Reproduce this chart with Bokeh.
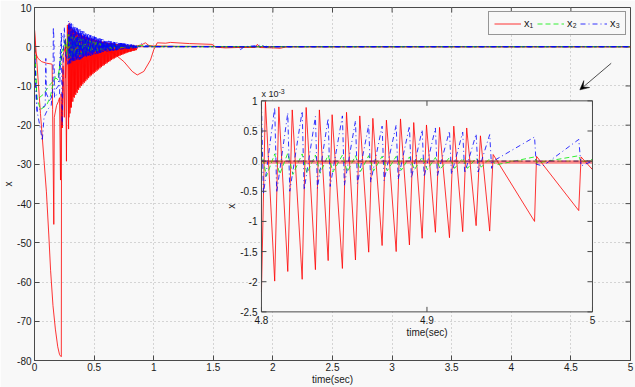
import math
from bokeh.plotting import figure
from bokeh.models import (Range1d, FixedTicker, Legend, LegendItem, Arrow, VeeHead)
from bokeh.core.properties import value
from bokeh.embed import file_html
from bokeh.resources import INLINE

# ---------------- data ----------------
x_lim = [0, 5]
y_lim = [-80, 10]
x_ticks = [0, 0.5, 1, 1.5, 2, 2.5, 3, 3.5, 4, 4.5, 5]
x_tick_labels = ["0", "0.5", "1", "1.5", "2", "2.5", "3", "3.5", "4", "4.5", "5"]
y_ticks = [10, 0, -10, -20, -30, -40, -50, -60, -70, -80]
y_tick_labels = ["10", "0", "-10", "-20", "-30", "-40", "-50", "-60", "-70", "-80"]

inset_t_lim = [4.8, 5.0]
inset_v_lim = [-2.5, 1.0]
inset_x_ticks = [4.8, 4.9, 5.0]
inset_x_tick_labels = ["4.8", "4.9", "5"]
inset_y_ticks = [1, 0.5, 0, -0.5, -1, -1.5, -2, -2.5]
inset_y_tick_labels = ["1", "0.5", "0", "-0.5", "-1", "-1.5", "-2", "-2.5"]

# x1 (red), first agent: big dip, oscillation, settle
x1a_early_t = [0, 0.02, 0.05, 0.08, 0.10, 0.12, 0.135, 0.155, 0.175, 0.195, 0.21, 0.222,
               0.225, 0.227, 0.232, 0.24, 0.25, 0.26, 0.268, 0.275]
x1a_early_v = [4.4, -4, -17, -29, -37, -48, -57, -66, -72, -76.5, -78.5, -79,
               -79, -15, -20.7, -5, -18, 2, -29.2, 5.5]
x1a_late_t = [0.9, 0.93, 0.96, 1.0, 1.2, 1.5, 1.55, 2.0, 5.0]
x1a_late_v = [0.5, 1.0, 0.3, 0.2, 0.1, 0.1, -0.1, 0.0, 0.0]

# x1 (red), second agent
x1b_t = [0, 0.005, 0.01, 0.03, 0.06, 0.10, 0.14, 0.148, 0.152, 0.162, 0.166, 0.185, 0.2,
         0.21, 0.218, 0.223, 0.232, 0.24, 0.26, 0.3, 0.4, 0.5, 0.6, 0.665, 0.75, 0.82,
         0.862, 0.917, 0.973, 1.0, 1.03, 1.1, 1.14, 1.3, 1.49, 1.52, 1.6, 1.7, 1.85,
         1.87, 1.89, 2.0, 2.06, 2.12, 5.0]
x1b_v = [4.4, 0.0, -1.7, -3.0, -3.8, -4.2, -4.4, -4.5, -16, -45.3, -18, -15, -14,
         -13, -34, -12, -20.7, -2, 0, -1.0, -1.5, -1.2, -1.0, -1.7, -3.8, -6.3,
         -7.2, -6.3, -3.4, -0.8, 1.0, 0.9, 1.1, 0.8, 0.6, -0.1, -0.3, -0.2, -0.2,
         0.6, -0.2, -0.3, -0.4, 0.0, 0.0]

# x2 (green)
x2a_early_t = [0, 0.02, 0.05, 0.1, 0.13, 0.16, 0.176, 0.2, 0.22, 0.24, 0.26, 0.27]
x2a_early_v = [0, -13, -16, -15, -13, -9, -7.6, -7, -4, -1, 2, -2]
x2a_late_t = [0.9, 1.0, 1.5, 1.9, 1.93, 1.96, 2.0, 5.0]
x2a_late_v = [0.3, 0.1, 0.05, 0.0, 0.4, -0.1, 0.0, 0.0]
x2b_t = [0, 0.01, 0.02, 0.04, 0.08, 0.12, 0.15, 0.18, 0.2, 0.22, 0.25, 0.3, 0.5, 0.8, 1.0, 5.0]
x2b_v = [0, -6, -13.5, -13, -12, -10, -9, -8, -8.5, -2, 0.5, 0.3, 0.2, 0.1, 0.0, 0.0]

# x3 (blue)
x3a_early_t = [0, 0.01, 0.025, 0.05, 0.065, 0.08, 0.11, 0.14, 0.155, 0.158, 0.163, 0.168,
               0.19, 0.21, 0.225, 0.232, 0.24, 0.25, 0.265]
x3a_early_v = [0, -8, -17, -21, -24, -18, -16, -15, -10, 5, 2, -13,
               -12, -12, 3.5, -20, -5, 5, -3]
x3a_late_t = [0.9, 0.93, 1.0, 1.1, 1.5, 1.7, 1.73, 1.76, 1.9, 1.95, 2.0, 5.0]
x3a_late_v = [0.8, 0.3, 0.0, 0.1, 0.0, 0.0, -0.7, 0.0, 0.4, -0.2, 0.0, 0.0]
x3b_t = [0, 0.008, 0.02, 0.04, 0.09, 0.095, 0.1, 0.13, 0.15, 0.2, 0.215, 0.23, 0.26, 0.4, 0.6, 1.0, 5.0]
x3b_v = [0, -10, -16.5, -16, -15, -3, -12, -14, -12, -10, -2, 3, 0.5, 0.3, 0.1, 0.0, 0.0]

# chattering phase (sampled peaks / troughs)
osc_t = [0.280, 0.286, 0.292, 0.298, 0.304, 0.310, 0.316, 0.322, 0.328, 0.334,
         0.340, 0.346, 0.352, 0.358, 0.364, 0.370, 0.376, 0.382, 0.388, 0.394,
         0.400, 0.406, 0.412, 0.418, 0.424, 0.430, 0.436, 0.442, 0.448, 0.454,
         0.460, 0.466, 0.472, 0.478, 0.484, 0.490, 0.496, 0.502, 0.508, 0.514,
         0.520, 0.526, 0.532, 0.538, 0.544, 0.550, 0.556, 0.562, 0.568, 0.574,
         0.580, 0.586, 0.592, 0.598, 0.604, 0.610, 0.616, 0.622, 0.628, 0.634,
         0.640, 0.646, 0.652, 0.658, 0.664, 0.670, 0.676, 0.682, 0.688, 0.694,
         0.700, 0.706, 0.712, 0.718, 0.724, 0.730, 0.736, 0.742, 0.748, 0.754,
         0.760, 0.766, 0.772, 0.778, 0.784, 0.790, 0.796, 0.802, 0.808, 0.814,
         0.820, 0.826, 0.832, 0.838, 0.844, 0.850, 0.856]
x1_osc = [5.5, -21, 6.0, -17, 5.0, -15.5, 4.6, -14, 4.3, -13,
          4.0, -12.3, 3.8, -11.8, 3.5, -11, 3.3, -10.5, 3.1, -10,
          2.9, -9.6, 2.8, -9.2, 2.6, -8.8, 2.5, -8.4, 2.3, -8.0,
          2.2, -7.6, 2.1, -7.3, 2.0, -7.0, 1.9, -6.7, 1.8, -6.4,
          1.7, -6.1, 1.6, -5.8, 1.5, -5.5, 1.4, -5.2, 1.3, -4.9,
          1.25, -4.7, 1.2, -4.4, 1.1, -4.2, 1.0, -3.9, 0.95, -3.7,
          0.9, -3.4, 0.85, -3.2, 0.8, -3.0, 0.75, -2.8, 0.7, -2.6,
          0.65, -2.4, 0.6, -2.3, 0.55, -2.1, 0.5, -2.0, 0.5, -1.8,
          0.45, -1.7, 0.4, -1.5, 0.4, -1.4, 0.35, -1.3, 0.35, -1.2,
          0.3, -1.1, 0.3, -1.0, 0.25, -0.9, 0.2]
x2_osc = [3.2, -3.0, 3.0, -2.9, 2.9, -2.8, 2.8, -2.6, 2.6, -2.5,
          2.5, -2.4, 2.4, -2.3, 2.3, -2.2, 2.2, -2.1, 2.1, -2.0,
          2.0, -1.9, 1.9, -1.8, 1.8, -1.7, 1.7, -1.65, 1.6, -1.55,
          1.5, -1.45, 1.45, -1.4, 1.35, -1.3, 1.3, -1.25, 1.2, -1.15,
          1.15, -1.1, 1.05, -1.0, 1.0, -0.95, 0.95, -0.9, 0.9, -0.85,
          0.85, -0.8, 0.8, -0.75, 0.75, -0.7, 0.7, -0.65, 0.65, -0.62,
          0.6, -0.58, 0.56, -0.54, 0.52, -0.5, 0.48, -0.46, 0.45, -0.43,
          0.42, -0.4, 0.39, -0.38, 0.37, -0.36, 0.35, -0.34, 0.33, -0.32,
          0.31, -0.3, 0.3, -0.29, 0.28, -0.27, 0.26, -0.25, 0.25, -0.24,
          0.23, -0.22, 0.21, -0.2, 0.2, -0.19, 0.18]
x3_osc = [-4.5, 6.5, -4.3, 6.2, -4.2, 5.9, -4.0, 5.6, -3.9, 5.3,
          -3.8, 5.0, -3.6, 4.8, -3.5, 4.6, -3.3, 4.4, -3.2, 4.2,
          -3.0, 4.0, -2.9, 3.8, -2.8, 3.6, -2.6, 3.4, -2.5, 3.2,
          -2.4, 3.0, -2.3, 2.9, -2.2, 2.7, -2.1, 2.6, -2.0, 2.4,
          -1.9, 2.3, -1.8, 2.2, -1.7, 2.1, -1.6, 2.0, -1.5, 1.9,
          -1.45, 1.8, -1.4, 1.7, -1.3, 1.6, -1.25, 1.5, -1.2, 1.4,
          -1.1, 1.35, -1.05, 1.3, -1.0, 1.2, -0.95, 1.1, -0.9, 1.05,
          -0.85, 1.0, -0.8, 0.95, -0.75, 0.9, -0.7, 0.85, -0.65, 0.8,
          -0.6, 0.75, -0.55, 0.7, -0.5, 0.65, -0.5, 0.6, -0.45, 0.55,
          -0.4, 0.5, -0.4, 0.45, -0.35, 0.4, -0.3]

# second chattering agents (red and blue), sampled between the first ones
osc_t2 = [0.283, 0.289, 0.295, 0.301, 0.307, 0.313, 0.319, 0.325, 0.331, 0.337,
          0.343, 0.349, 0.355, 0.361, 0.367, 0.373, 0.379, 0.385, 0.391, 0.397,
          0.403, 0.409, 0.415, 0.421, 0.427, 0.433, 0.439, 0.445, 0.451, 0.457,
          0.463, 0.469, 0.475, 0.481, 0.487, 0.493, 0.499, 0.505, 0.511, 0.517,
          0.523, 0.529, 0.535, 0.541, 0.547, 0.553, 0.559, 0.565, 0.571, 0.577,
          0.583, 0.589, 0.595, 0.601, 0.607, 0.613, 0.619, 0.625, 0.631, 0.637,
          0.643, 0.649, 0.655, 0.661, 0.667, 0.673, 0.679, 0.685, 0.691, 0.697,
          0.703, 0.709, 0.715, 0.721, 0.727, 0.733, 0.739, 0.745, 0.751, 0.757,
          0.763, 0.769, 0.775, 0.781, 0.787, 0.793, 0.799, 0.805, 0.811, 0.817,
          0.823, 0.829, 0.835, 0.841, 0.847, 0.853]
x1c_osc = [5.0, -18, 5.2, -15.5, 4.6, -14, 4.2, -12.8, 3.9, -12,
           3.7, -11.5, 3.4, -10.8, 3.2, -10.3, 3.0, -9.8, 2.9, -9.4,
           2.7, -9.0, 2.6, -8.6, 2.4, -8.2, 2.3, -7.8, 2.2, -7.4,
           2.0, -7.1, 1.9, -6.8, 1.8, -6.5, 1.75, -6.2, 1.65, -5.9,
           1.55, -5.6, 1.45, -5.3, 1.4, -5.0, 1.3, -4.8, 1.2, -4.5,
           1.15, -4.3, 1.1, -4.0, 1.0, -3.8, 0.95, -3.6, 0.9, -3.3,
           0.85, -3.1, 0.8, -2.9, 0.75, -2.7, 0.7, -2.5, 0.65, -2.35,
           0.6, -2.2, 0.55, -2.0, 0.5, -1.9, 0.48, -1.75, 0.45, -1.6,
           0.42, -1.5, 0.4, -1.4, 0.36, -1.3, 0.34, -1.2, 0.3, -1.1,
           0.28, -1.0, 0.25, -0.9, 0.22, -0.85]
x3c_osc = [-4.0, 6.0, -3.9, 5.8, -3.8, 5.4, -3.7, 5.1, -3.5, 4.9,
           -3.4, 4.7, -3.3, 4.5, -3.1, 4.3, -3.0, 4.1, -2.9, 3.9,
           -2.8, 3.7, -2.6, 3.5, -2.5, 3.3, -2.4, 3.1, -2.3, 3.0,
           -2.2, 2.8, -2.1, 2.7, -2.0, 2.5, -1.9, 2.4, -1.8, 2.3,
           -1.7, 2.2, -1.6, 2.1, -1.55, 2.0, -1.5, 1.9, -1.4, 1.8,
           -1.35, 1.7, -1.3, 1.6, -1.2, 1.55, -1.15, 1.45, -1.1, 1.4,
           -1.0, 1.3, -0.95, 1.25, -0.9, 1.15, -0.85, 1.1, -0.8, 1.0,
           -0.78, 0.95, -0.72, 0.9, -0.7, 0.85, -0.65, 0.8, -0.6, 0.75,
           -0.55, 0.7, -0.52, 0.65, -0.5, 0.6, -0.45, 0.55, -0.42, 0.5,
           -0.4, 0.48, -0.36, 0.44, -0.33, 0.4]
x1c_pre_t, x1c_pre_v = [0.26], [-8.0]
x1c_post_t, x1c_post_v = [0.87, 1.0, 5.0], [0.0, 0.0, 0.0]
x3c_pre_t, x3c_pre_v = [0.26], [-2.0]
x3c_post_t, x3c_post_v = [0.87, 1.0, 5.0], [0.0, 0.0, 0.0]

# inset (values in units of 1e-3)
in_x1_t = [4.8000, 4.8024, 4.8080, 4.8105, 4.8159, 4.8186, 4.8246, 4.8270, 4.8326, 4.8350,
           4.8403, 4.8427, 4.8489, 4.8514, 4.8568, 4.8594, 4.8648, 4.8673, 4.8729, 4.8755,
           4.8814, 4.8840, 4.8894, 4.8920, 4.8971, 4.8997, 4.9051, 4.9076, 4.9136, 4.9162,
           4.9216, 4.9240, 4.9297, 4.9323, 4.9379, 4.9400, 4.9650, 4.9662, 4.9917, 4.9931, 5.0000]
in_x1_v = [-2.17, 0.99, -1.99, 0.90, -1.83, 0.85, -1.96, 0.89, -1.80, 0.85,
           -1.65, 0.77, -1.78, 0.81, -1.64, 0.75, -1.51, 0.71, -1.40, 0.68,
           -1.50, 0.70, -1.39, 0.64, -1.28, 0.60, -1.18, 0.56, -1.27, 0.58,
           -1.17, 0.55, -1.07, 0.42, -1.16, 0.11, -1.00, 0.08, -0.82, 0.07, -0.14]
in_x3_t = [4.8000, 4.8012, 4.8080, 4.8092, 4.8159, 4.8171, 4.8246, 4.8258, 4.8326, 4.8338,
           4.8403, 4.8415, 4.8489, 4.8501, 4.8568, 4.8580, 4.8648, 4.8660, 4.8729, 4.8741,
           4.8814, 4.8826, 4.8894, 4.8906, 4.8971, 4.8983, 4.9051, 4.9063, 4.9136, 4.9148,
           4.9216, 4.9228, 4.9297, 4.9309, 4.9379, 4.9391, 4.9400, 4.9650, 4.9660, 4.9700,
           4.9917, 4.9931, 5.0000]
in_x3_v = [0.95, -0.55, 0.89, -0.52, 0.80, -0.50, 0.83, -0.48, 0.74, -0.45,
           0.71, -0.42, 0.75, -0.40, 0.67, -0.37, 0.60, -0.35, 0.58, -0.32,
           0.60, -0.30, 0.58, -0.28, 0.52, -0.26, 0.55, -0.24, 0.50, -0.22,
           0.48, -0.20, 0.45, -0.18, 0.44, -0.12, 0.00, 0.40, -0.05, -0.08,
           0.36, -0.08, 0.00]
in_x2_t = [4.8000, 4.8030, 4.8080, 4.8110, 4.8159, 4.8190, 4.8246, 4.8275, 4.8326, 4.8355,
           4.8403, 4.8432, 4.8489, 4.8519, 4.8568, 4.8599, 4.8648, 4.8678, 4.8729, 4.8760,
           4.8814, 4.8845, 4.8894, 4.8925, 4.8971, 4.9002, 4.9051, 4.9081, 4.9136, 4.9167,
           4.9216, 4.9245, 4.9297, 4.9328, 4.9379, 4.9420, 4.9650, 4.9665, 4.9917, 4.9931, 5.0000]
in_x2_v = [0.17, -0.25, 0.12, -0.22, 0.13, -0.22, 0.12, -0.20, 0.10, -0.20,
           0.10, -0.18, 0.10, -0.18, 0.09, -0.17, 0.09, -0.16, 0.08, -0.16,
           0.08, -0.15, 0.07, -0.14, 0.07, -0.14, 0.06, -0.13, 0.06, -0.12,
           0.05, -0.12, 0.05, -0.10, 0.04, -0.06, 0.07, -0.03, 0.09, -0.02, 0.03]
in_flat_t = [4.8, 5.0]
in_x1_flat_a = [0.0, 0.0]
in_x1_flat_b = [-0.03, -0.03]
in_x2_flat = [0.0, 0.0]
in_x3_flat = [0.0, 0.0]

# ---------------- styling / layout ----------------
FONT = "Liberation Sans"
BG = "#f8f8f8"
AX = "#4a4a4a"
TXT = "#1a1a1a"
RED, GREEN, BLUE = "#ff0000", "#00ee00", "#0000ff"
LW = 0.8
DASH_G = "5 3"
DASH_B = "5 3 1 3"

# where the inset sits, in main-axes data coordinates
IB_X0, IB_X1, IB_Y0, IB_Y1 = 1.904, 4.681, -67.6, -13.8

p = figure(width=635, height=387, x_range=Range1d(*x_lim), y_range=Range1d(*y_lim),
           output_backend="svg", toolbar_location=None,
           min_border_left=34, min_border_right=5, min_border_top=7, min_border_bottom=26,
           background_fill_color=BG, border_fill_color=BG,
           outline_line_color=AX, outline_line_width=1)


def style_axis(ax, ticks, labels, title, label_standoff, title_standoff):
    ax.ticker = FixedTicker(ticks=ticks)
    ax.major_label_overrides = {t: l for t, l in zip(ticks, labels)}
    ax.major_tick_in = 5
    ax.major_tick_out = 0
    ax.minor_tick_in = 0
    ax.minor_tick_out = 0
    ax.major_tick_line_color = AX
    ax.axis_line_color = AX
    ax.major_label_text_font = FONT
    ax.major_label_text_color = TXT
    ax.major_label_text_font_size = "10px"
    ax.major_label_standoff = label_standoff
    ax.axis_label = title
    ax.axis_label_text_font = FONT
    ax.axis_label_text_font_size = "10px"
    ax.axis_label_text_font_style = "normal"
    ax.axis_label_text_color = TXT
    ax.axis_label_standoff = title_standoff


style_axis(p.xaxis[0], x_ticks, x_tick_labels, "time(sec)", 2, 0)
style_axis(p.yaxis[0], y_ticks, y_tick_labels, "x", 3, 0)

p.xgrid.ticker = FixedTicker(ticks=x_ticks)
p.ygrid.ticker = FixedTicker(ticks=y_ticks)
p.grid.grid_line_color = "#b0b0b0"
p.grid.grid_line_dash = "1 3"
p.grid.grid_line_width = 1

# ticks on the top and right edges of the box
mtick = dict(length=5, length_units="screen", line_color=AX, line_width=1)
p.ray(x=x_ticks, y=[y_lim[1]] * len(x_ticks), angle=-math.pi / 2, **mtick)
p.ray(x=[x_lim[1]] * len(y_ticks), y=y_ticks, angle=math.pi, **mtick)

# ---- main traces ----
r1 = p.line(x1a_early_t + osc_t + x1a_late_t, x1a_early_v + x1_osc + x1a_late_v,
            line_color=RED, line_width=LW)
p.line(x1b_t, x1b_v, line_color=RED, line_width=LW)
p.line(x1c_pre_t + osc_t2 + x1c_post_t, x1c_pre_v + x1c_osc + x1c_post_v,
       line_color=RED, line_width=LW)
r2 = p.line(x2a_early_t + osc_t + x2a_late_t, x2a_early_v + x2_osc + x2a_late_v,
            line_color=GREEN, line_width=LW, line_dash=DASH_G)
p.line(x2b_t, x2b_v, line_color=GREEN, line_width=LW, line_dash=DASH_G)
r3 = p.line(x3a_early_t + osc_t + x3a_late_t, x3a_early_v + x3_osc + x3a_late_v,
            line_color=BLUE, line_width=LW, line_dash=DASH_B)
p.line(x3b_t, x3b_v, line_color=BLUE, line_width=LW, line_dash=DASH_B)
p.line(x3c_pre_t + osc_t2 + x3c_post_t, x3c_pre_v + x3c_osc + x3c_post_v,
       line_color=BLUE, line_width=LW, line_dash=DASH_B)

# ---- inset via extra ranges mapped onto the inset box ----
sx = (inset_t_lim[1] - inset_t_lim[0]) / (IB_X1 - IB_X0)
sy = (inset_v_lim[1] - inset_v_lim[0]) / (IB_Y1 - IB_Y0)
p.extra_x_ranges = {"ix": Range1d(inset_t_lim[0] - (IB_X0 - x_lim[0]) * sx,
                                  inset_t_lim[1] + (x_lim[1] - IB_X1) * sx)}
p.extra_y_ranges = {"iy": Range1d(inset_v_lim[0] - (IB_Y0 - y_lim[0]) * sy,
                                  inset_v_lim[1] + (y_lim[1] - IB_Y1) * sy)}
IR = dict(x_range_name="ix", y_range_name="iy")

p.quad(left=[inset_t_lim[0]], right=[inset_t_lim[1]], bottom=[inset_v_lim[0]],
       top=[inset_v_lim[1]], fill_color=BG, line_color=None, **IR)

p.line(in_flat_t, in_x1_flat_b, line_color=RED, line_width=LW, **IR)
p.line(in_x1_t, in_x1_v, line_color=RED, line_width=LW, **IR)
p.line(in_x2_t, in_x2_v, line_color=GREEN, line_width=LW, line_dash=DASH_G, **IR)
p.line(in_flat_t, in_x2_flat, line_color=GREEN, line_width=LW, line_dash=DASH_G, **IR)
p.line(in_x3_t, in_x3_v, line_color=BLUE, line_width=LW, line_dash=DASH_B, **IR)
p.line(in_flat_t, in_x3_flat, line_color=BLUE, line_width=LW, line_dash=DASH_B, **IR)
p.line(in_flat_t, in_x1_flat_a, line_color=RED, line_width=LW, **IR)

p.quad(left=[inset_t_lim[0]], right=[inset_t_lim[1]], bottom=[inset_v_lim[0]],
       top=[inset_v_lim[1]], fill_color=None, line_color=AX, line_width=1, **IR)

nx, ny = len(inset_x_ticks), len(inset_y_ticks)
tick_kw = dict(length=5, length_units="screen", line_color=AX, line_width=1, **IR)
p.ray(x=inset_x_ticks, y=[inset_v_lim[0]] * nx, angle=math.pi / 2, **tick_kw)
p.ray(x=inset_x_ticks, y=[inset_v_lim[1]] * nx, angle=-math.pi / 2, **tick_kw)
p.ray(x=[inset_t_lim[0]] * ny, y=inset_y_ticks, angle=0, **tick_kw)
p.ray(x=[inset_t_lim[1]] * ny, y=inset_y_ticks, angle=math.pi, **tick_kw)

txt_kw = dict(text_font=value(FONT), text_font_size=value("10px"), text_color=TXT, **IR)
p.text(x=[inset_t_lim[0]] * ny, y=inset_y_ticks, text=inset_y_tick_labels,
       text_align="right", text_baseline="middle", x_offset=-4, **txt_kw)
p.text(x=inset_x_ticks, y=[inset_v_lim[0]] * nx, text=inset_x_tick_labels,
       text_align="center", text_baseline="top", y_offset=4, **txt_kw)
p.text(x=[inset_t_lim[0]], y=[inset_v_lim[1]], text=["x 10"],
       text_align="left", text_baseline="bottom", y_offset=-2,
       text_font=value(FONT), text_font_size=value("9px"), text_color=TXT, **IR)
p.text(x=[inset_t_lim[0]], y=[inset_v_lim[1]], text=["-3"],
       text_align="left", text_baseline="bottom", x_offset=17, y_offset=-7,
       text_font=value(FONT), text_font_size=value("7px"), text_color=TXT, **IR)
p.text(x=[(inset_t_lim[0] + inset_t_lim[1]) / 2], y=[inset_v_lim[0]], text=["time(sec)"],
       text_align="center", text_baseline="top", y_offset=15, **txt_kw)
p.text(x=[inset_t_lim[0]], y=[(inset_v_lim[0] + inset_v_lim[1]) / 2], text=["x"],
       text_align="center", text_baseline="middle", x_offset=-30, angle=math.pi / 2, **txt_kw)

# ---- arrow pointing at the settled region ----
p.add_layout(Arrow(end=VeeHead(size=9, fill_color="black", line_color="black", line_width=0.5),
                   x_start=4.838, y_start=-4.22, x_end=4.575, y_end=-11.0,
                   line_color="#222222", line_width=0.8))

# ---- legend ----
legend = Legend(items=[LegendItem(label="x₁", renderers=[r1]),
                       LegendItem(label="x₂", renderers=[r2]),
                       LegendItem(label="x₃", renderers=[r3])],
                location="top_right", orientation="horizontal",
                margin=4, padding=5, spacing=3, glyph_width=27, glyph_height=9,
                label_height=9, label_width=10, label_standoff=3, label_text_font=FONT,
                label_text_font_size="11px", label_text_color=TXT,
                border_line_color="#333333", border_line_width=1,
                background_fill_color=BG, background_fill_alpha=1.0)
p.add_layout(legend)

open("out.html", "w").write(file_html(p, INLINE))
